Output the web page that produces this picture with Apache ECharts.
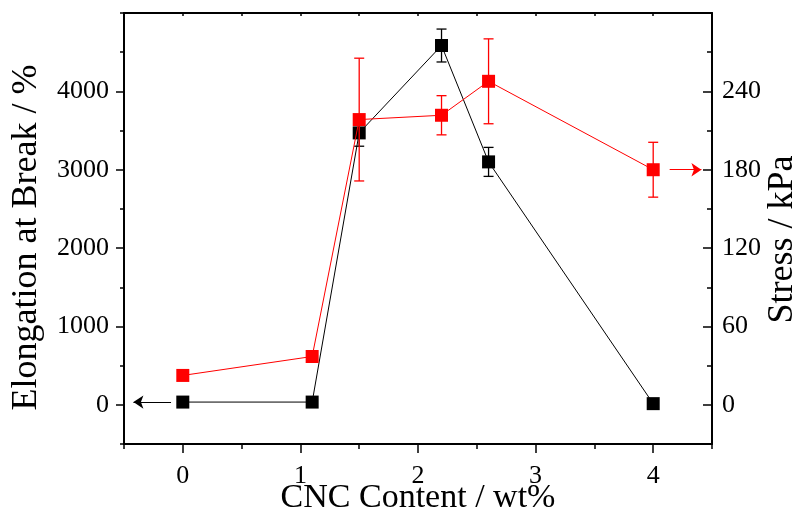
<!DOCTYPE html>
<html>
<head>
<meta charset="utf-8">
<script src="https://cdn.jsdelivr.net/npm/echarts@6/dist/echarts.min.js"></script>
<style>html,body{margin:0;padding:0;background:#fff;}#c{width:799px;height:513px;}</style>
</head>
<body>
<div id="c"></div>
<script>
// ---- data ----
var cncContent = [0, 1.1, 1.5, 2.2, 2.6, 4];
var elongation = [35, 35, 3470, 4585, 3100, 15];
var elongationErr = [0, 0, 170, 210, 185, 0];
var stress = [22.5, 37, 218.4, 221.7, 247.7, 180];
var stressErr = [0, 0, 47, 15, 32.5, 21];
var xTicks = [0, 1, 2, 3, 4];
var leftTicks = [0, 1000, 2000, 3000, 4000];
var rightTicks = [0, 60, 120, 180, 240];
var xTitle = 'CNC Content / wt%';
var leftTitle = 'Elongation at Break / %';
var rightTitle = 'Stress / kPa';

var FONT = '"Liberation Serif", "Times New Roman", serif';

function pairs(ys) { return cncContent.map(function (x, i) { return [x, ys[i]]; }); }
function errData(ys, es) {
  return cncContent.map(function (x, i) { return [x, ys[i] - es[i], ys[i] + es[i]]; })
    .filter(function (d, i) { return es[i] > 0; });
}
function errRender(color) {
  return function (params, api) {
    var x = api.value(0);
    var lo = api.coord([x, api.value(1)]);
    var hi = api.coord([x, api.value(2)]);
    var w = 5;
    var st = { stroke: color, lineWidth: 1.3 };
    return {
      type: 'group',
      children: [
        { type: 'line', shape: { x1: lo[0], y1: lo[1], x2: hi[0], y2: hi[1] }, style: st },
        { type: 'line', shape: { x1: lo[0] - w, y1: lo[1], x2: lo[0] + w, y2: lo[1] }, style: st },
        { type: 'line', shape: { x1: hi[0] - w, y1: hi[1], x2: hi[0] + w, y2: hi[1] }, style: st }
      ]
    };
  };
}

var axisLineStyle = { onZero: false, lineStyle: { color: '#000', width: 2 } };
var noLine = { show: false, onZero: false };
var plain = function (v) { return String(v); };
var labelStyle = { fontFamily: FONT, fontSize: 26, color: '#000', formatter: plain };
var xNameStyle = { fontFamily: FONT, fontSize: 34, color: '#000' };
var leftNameStyle = { fontFamily: FONT, fontSize: 36, color: '#000', padding: [0, 18, 0, 0] };
var rightNameStyle = { fontFamily: FONT, fontSize: 36, color: '#000', padding: [0, 22, 0, 0] };

var chart = echarts.init(document.getElementById('c'), null, { renderer: 'canvas' });
chart.setOption({
  animation: false,
  backgroundColor: '#fff',
  grid: { left: 124, right: 87, top: 13, bottom: 69, containLabel: false, outerBoundsMode: 'none' },
  xAxis: [
    { type: 'value', position: 'bottom', min: -0.5, max: 4.5, interval: 0.5,
      axisLine: axisLineStyle, axisTick: { length: 5, lineStyle: { color: '#000', width: 1.5 } },
      axisLabel: { show: false }, splitLine: { show: false } },
    { type: 'value', position: 'bottom', min: -0.5, max: 4.5, interval: 0.5,
      axisLine: noLine,
      axisTick: { customValues: xTicks, length: 9, lineStyle: { color: '#000', width: 1.5 } },
      axisLabel: Object.assign({ customValues: xTicks, margin: 19 }, labelStyle),
      splitLine: { show: false },
      name: xTitle, nameLocation: 'middle', nameGap: 37, nameMoveOverlap: false, nameTextStyle: xNameStyle },
    { type: 'value', position: 'top', min: -0.5, max: 4.5, interval: 0.5,
      axisLine: axisLineStyle, axisTick: { inside: true, length: 3, lineStyle: { color: '#000', width: 1.5 } },
      axisLabel: { show: false }, splitLine: { show: false } }
  ],
  yAxis: [
    { type: 'value', position: 'left', min: -500, max: 5000, interval: 500,
      axisLine: axisLineStyle, axisTick: { length: 4, lineStyle: { color: '#000', width: 1.5 } },
      axisLabel: { show: false }, splitLine: { show: false } },
    { type: 'value', position: 'left', min: -500, max: 5000, interval: 500,
      axisLine: noLine,
      axisTick: { customValues: leftTicks, length: 8, lineStyle: { color: '#000', width: 1.5 } },
      axisLabel: Object.assign({ customValues: leftTicks, margin: 15 }, labelStyle),
      splitLine: { show: false },
      name: leftTitle, nameLocation: 'middle', nameRotate: 90, nameGap: 79, nameMoveOverlap: false, nameTextStyle: leftNameStyle },
    { type: 'value', position: 'right', min: -30, max: 300, interval: 30,
      axisLine: axisLineStyle, axisTick: { inside: true, length: 5, lineStyle: { color: '#000', width: 1.5 } },
      axisLabel: { show: false }, splitLine: { show: false } },
    { type: 'value', position: 'right', min: -30, max: 300, interval: 30,
      axisLine: noLine,
      axisTick: { customValues: rightTicks, inside: true, length: 9, lineStyle: { color: '#000', width: 1.5 } },
      axisLabel: Object.assign({ customValues: rightTicks, margin: 10 }, labelStyle),
      splitLine: { show: false },
      name: rightTitle, nameLocation: 'middle', nameRotate: 90, nameGap: 53, nameMoveOverlap: false, nameTextStyle: rightNameStyle }
  ],
  series: [
    { type: 'custom', name: 'elongErr', xAxisIndex: 1, yAxisIndex: 1, silent: true, z: 2,
      renderItem: errRender('#000'), data: errData(elongation, elongationErr) },
    { type: 'line', name: 'Elongation', xAxisIndex: 1, yAxisIndex: 1, z: 3,
      data: pairs(elongation), symbol: 'rect', symbolSize: 13,
      lineStyle: { color: '#000', width: 1 }, itemStyle: { color: '#000' },
      markLine: { silent: true, symbol: ['none', 'arrow'], symbolSize: 10, label: { show: false },
        lineStyle: { color: '#000', width: 1, type: 'solid' },
        data: [[{ coord: [-0.1, elongation[0]] }, { coord: [-0.42, elongation[0]] }]] } },
    { type: 'custom', name: 'stressErr', xAxisIndex: 1, yAxisIndex: 3, silent: true, z: 4,
      renderItem: errRender('#ff0000'), data: errData(stress, stressErr) },
    { type: 'line', name: 'Stress', xAxisIndex: 1, yAxisIndex: 3, z: 5,
      data: pairs(stress), symbol: 'rect', symbolSize: 13,
      lineStyle: { color: '#ff0000', width: 1 }, itemStyle: { color: '#ff0000' },
      markLine: { silent: true, symbol: ['none', 'arrow'], symbolSize: 10, label: { show: false },
        lineStyle: { color: '#ff0000', width: 1, type: 'solid' },
        data: [[{ coord: [4.14, stress[5]] }, { coord: [4.41, stress[5]] }]] } }
  ]
});
</script>
</body>
</html>
